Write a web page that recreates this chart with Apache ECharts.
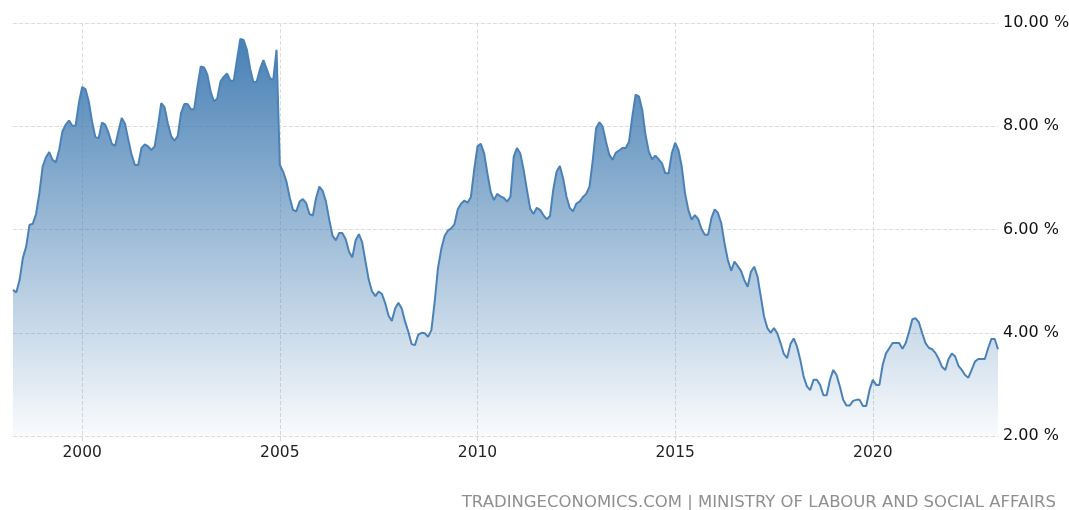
<!DOCTYPE html>
<html>
<head>
<meta charset="utf-8">
<script src="https://cdn.jsdelivr.net/npm/echarts@6/dist/echarts.min.js"></script>
<style>
  html, body { margin: 0; padding: 0; background: #ffffff; }
  #chart { width: 1069px; height: 510px; }
</style>
</head>
<body>
<div id="chart"></div>
<script>
// Monthly unemployment rate (%), April 1998 – March 2023
const startYear = 1998, startMonth = 4;
const y1998 = [4.83, 4.78, 5.02, 5.45, 5.67, 6.09, 6.11, 6.30, 6.70];
const y1999 = [7.22, 7.40, 7.50, 7.35, 7.30, 7.54, 7.90, 8.03, 8.11, 8.01, 8.01, 8.45];
const y2000 = [8.76, 8.72, 8.48, 8.09, 7.79, 7.77, 8.07, 8.03, 7.87, 7.66, 7.62, 7.90];
const y2001 = [8.16, 8.05, 7.74, 7.45, 7.25, 7.25, 7.58, 7.65, 7.61, 7.54, 7.61, 8.00];
const y2002 = [8.45, 8.37, 8.06, 7.81, 7.72, 7.81, 8.25, 8.43, 8.43, 8.33, 8.33, 8.77];
const y2003 = [9.16, 9.14, 9.00, 8.67, 8.48, 8.54, 8.87, 8.96, 9.02, 8.88, 8.88, 9.29];
const y2004 = [9.69, 9.67, 9.48, 9.11, 8.85, 8.87, 9.11, 9.28, 9.11, 8.93, 8.90, 9.48];
const y2005 = [7.25, 7.12, 6.93, 6.62, 6.38, 6.35, 6.54, 6.59, 6.51, 6.30, 6.27, 6.61];
const y2006 = [6.83, 6.75, 6.54, 6.19, 5.88, 5.79, 5.93, 5.93, 5.81, 5.57, 5.46, 5.79];
const y2007 = [5.91, 5.75, 5.38, 5.02, 4.80, 4.71, 4.80, 4.75, 4.57, 4.33, 4.23, 4.47];
const y2008 = [4.58, 4.47, 4.22, 4.02, 3.78, 3.76, 3.96, 4.00, 3.99, 3.92, 4.05, 4.60];
const y2009 = [5.25, 5.62, 5.87, 5.98, 6.02, 6.10, 6.39, 6.50, 6.56, 6.52, 6.63, 7.16];
const y2010 = [7.61, 7.66, 7.48, 7.09, 6.73, 6.57, 6.69, 6.64, 6.61, 6.54, 6.64, 7.41];
const y2011 = [7.58, 7.47, 7.16, 6.77, 6.40, 6.30, 6.42, 6.38, 6.28, 6.20, 6.26, 6.77];
const y2012 = [7.12, 7.23, 6.99, 6.64, 6.42, 6.35, 6.50, 6.54, 6.63, 6.69, 6.83, 7.35];
const y2013 = [7.96, 8.08, 7.99, 7.70, 7.45, 7.35, 7.49, 7.53, 7.58, 7.58, 7.70, 8.19];
const y2014 = [8.61, 8.58, 8.32, 7.83, 7.51, 7.36, 7.43, 7.36, 7.28, 7.09, 7.09, 7.48];
const y2015 = [7.68, 7.54, 7.22, 6.70, 6.38, 6.19, 6.28, 6.20, 6.01, 5.90, 5.90, 6.22];
const y2016 = [6.39, 6.32, 6.12, 5.73, 5.41, 5.20, 5.38, 5.29, 5.20, 5.02, 4.89, 5.18];
const y2017 = [5.28, 5.09, 4.70, 4.31, 4.09, 4.00, 4.09, 3.99, 3.80, 3.59, 3.51, 3.78];
const y2018 = [3.89, 3.73, 3.47, 3.15, 2.96, 2.89, 3.09, 3.09, 2.99, 2.79, 2.79, 3.09];
const y2019 = [3.28, 3.18, 2.96, 2.70, 2.59, 2.59, 2.68, 2.70, 2.70, 2.58, 2.58, 2.89];
const y2020 = [3.09, 2.99, 2.99, 3.38, 3.60, 3.70, 3.80, 3.80, 3.80, 3.69, 3.80, 4.02];
const y2021 = [4.26, 4.28, 4.20, 3.99, 3.80, 3.71, 3.68, 3.61, 3.49, 3.34, 3.28, 3.49];
const y2022 = [3.60, 3.54, 3.36, 3.28, 3.18, 3.13, 3.28, 3.44, 3.49, 3.49, 3.49, 3.70];
const y2023 = [3.88, 3.88, 3.68];

const yearTicks = ['2000', '2005', '2010', '2015', '2020'];
const yTicks = [2, 4, 6, 8, 10];
const sourceText = 'TRADINGECONOMICS.COM | MINISTRY OF LABOUR AND SOCIAL AFFAIRS';

const values = [].concat(y1998, y1999, y2000, y2001, y2002, y2003, y2004, y2005, y2006,
  y2007, y2008, y2009, y2010, y2011, y2012, y2013, y2014, y2015, y2016, y2017, y2018,
  y2019, y2020, y2021, y2022, y2023);

const months = [];
for (let i = 0; i < values.length; i++) {
  const t = (startMonth - 1) + i;
  const yr = startYear + Math.floor(t / 12);
  const mo = (t % 12) + 1;
  months.push(yr + '-' + (mo < 10 ? '0' + mo : '' + mo));
}

const isYearTick = (idx, v) => v.endsWith('-01') && yearTicks.indexOf(v.slice(0, 4)) >= 0;

const FONT = 'DejaVu Sans';
const chart = echarts.init(document.getElementById('chart'), null, { renderer: 'canvas' });
chart.setOption({
  backgroundColor: '#ffffff',
  animation: false,
  textStyle: { fontFamily: FONT },
  title: {
    text: sourceText,
    right: 8,
    top: 489,
    textStyle: { color: '#8f8f8f', fontSize: 16.5, fontWeight: 'normal', fontFamily: FONT }
  },
  grid: { left: 13, right: 71, top: 23, bottom: 74, containLabel: false, outerBoundsMode: 'none' },
  xAxis: {
    type: 'category',
    boundaryGap: false,
    data: months,
    axisLine: { show: false },
    axisTick: { show: true, interval: isYearTick, length: 5, lineStyle: { color: '#d6d6d6' } },
    axisLabel: {
      interval: isYearTick,
      formatter: v => v.slice(0, 4),
      fontSize: 15.5, color: '#222', margin: 9, fontFamily: FONT
    },
    splitLine: { show: true, interval: isYearTick, lineStyle: { type: 'dashed', color: '#dcdcdc', width: 1 } }
  },
  yAxis: {
    type: 'value',
    position: 'right',
    min: yTicks[0],
    max: yTicks[yTicks.length - 1],
    interval: 2,
    axisLine: { show: false },
    axisTick: { show: false },
    axisLabel: {
      formatter: v => v.toFixed(2) + ' %',
      fontSize: 16, color: '#111', margin: 5, fontFamily: FONT
    },
    splitLine: { lineStyle: { type: 'dashed', color: '#dcdcdc', width: 1 } }
  },
  series: [{
    type: 'line',
    data: values,
    symbol: 'none',
    smooth: false,
    lineStyle: { color: '#4a82b7', width: 2 },
    areaStyle: {
      opacity: 1,
      color: new echarts.graphic.LinearGradient(0, 0, 0, 1, [
        { offset: 0, color: 'rgba(66,124,178,0.97)' },
        { offset: 1, color: 'rgba(66,124,178,0.03)' }
      ])
    }
  }]
});
</script>
</body>
</html>
